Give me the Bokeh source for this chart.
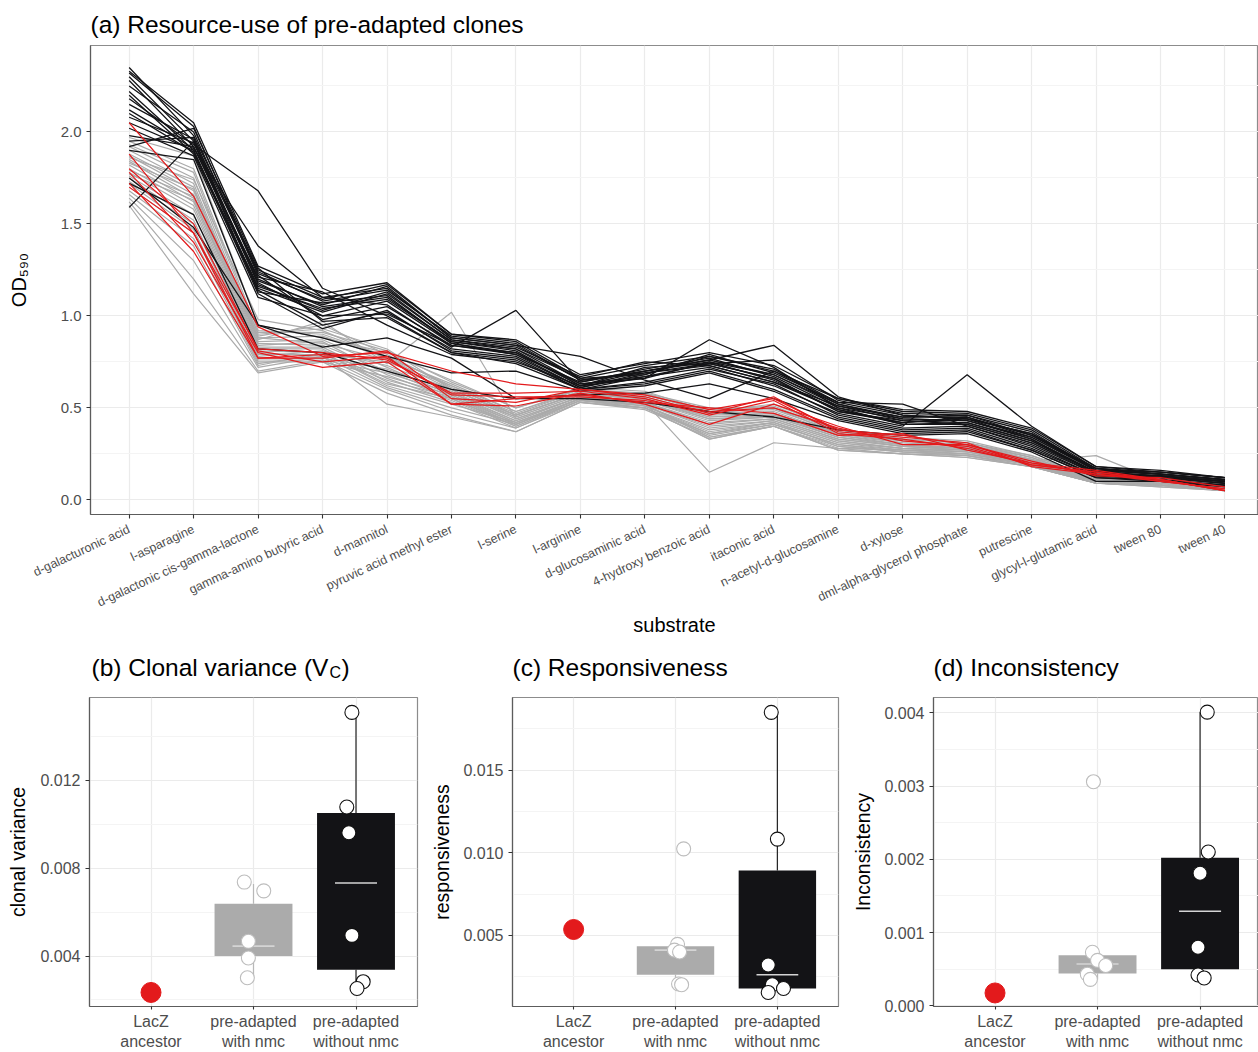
import math
from bokeh.plotting import figure
from bokeh.layouts import column, row
from bokeh.models import FixedTicker, PrintfTickFormatter, Range1d
from bokeh.core.properties import value
from bokeh.embed import file_html
from bokeh.resources import INLINE

FONT = "Liberation Sans"

# ---------------- panel (a) data ----------------
SUBSTRATES = [
    "d-galacturonic acid", "l-asparagine", "d-galactonic cis-gamma-lactone",
    "gamma-amino butyric acid", "d-mannitol", "pyruvic acid methyl ester",
    "l-serine", "l-arginine", "d-glucosaminic acid", "4-hydroxy benzoic acid",
    "itaconic acid", "n-acetyl-d-glucosamine", "d-xylose",
    "dml-alpha-glycerol phosphate", "putrescine", "glycyl-l-glutamic acid",
    "tween 80", "tween 40",
]

BLACK_LINES = [
    [2.35, 1.98, 1.25, 1.10, 1.15, 0.88, 0.84, 0.65, 0.70, 0.75, 0.68, 0.52, 0.45, 0.45, 0.35, 0.16, 0.14, 0.11],
    [2.33, 2.05, 1.27, 1.12, 1.18, 0.90, 0.86, 0.66, 0.68, 0.78, 0.70, 0.55, 0.48, 0.47, 0.38, 0.17, 0.15, 0.12],
    [2.30, 1.95, 1.20, 1.05, 1.10, 0.86, 0.82, 0.63, 0.66, 0.87, 0.72, 0.50, 0.44, 0.43, 0.33, 0.15, 0.13, 0.10],
    [2.28, 1.92, 1.18, 1.00, 1.08, 0.85, 0.80, 0.62, 0.72, 0.74, 0.66, 0.48, 0.42, 0.45, 0.34, 0.16, 0.12, 0.09],
    [2.25, 2.00, 1.22, 0.98, 1.05, 0.84, 0.79, 0.64, 0.70, 0.76, 0.84, 0.56, 0.46, 0.44, 0.36, 0.17, 0.14, 0.11],
    [2.22, 1.90, 1.15, 1.02, 1.12, 0.87, 0.83, 0.67, 0.75, 0.73, 0.64, 0.51, 0.43, 0.42, 0.32, 0.15, 0.13, 0.10],
    [2.20, 1.88, 1.14, 0.95, 1.02, 0.82, 0.78, 0.61, 0.68, 0.79, 0.69, 0.53, 0.52, 0.40, 0.30, 0.14, 0.12, 0.09],
    [2.18, 1.93, 1.68, 1.15, 1.00, 0.80, 0.76, 0.60, 0.67, 0.72, 0.62, 0.47, 0.40, 0.68, 0.40, 0.18, 0.15, 0.12],
    [2.15, 1.96, 1.24, 1.08, 1.14, 0.89, 0.85, 0.65, 0.69, 0.74, 0.76, 0.54, 0.47, 0.46, 0.37, 0.16, 0.14, 0.11],
    [2.12, 1.91, 1.38, 1.10, 1.06, 0.83, 1.03, 0.64, 0.71, 0.77, 0.67, 0.50, 0.41, 0.41, 0.31, 0.15, 0.12, 0.10],
    [2.10, 1.89, 1.16, 1.04, 1.09, 0.86, 0.81, 0.62, 0.66, 0.75, 0.65, 0.49, 0.42, 0.44, 0.33, 0.14, 0.13, 0.10],
    [2.08, 1.94, 1.19, 1.06, 1.16, 0.88, 0.84, 0.78, 0.65, 0.55, 0.70, 0.52, 0.44, 0.43, 0.34, 0.16, 0.14, 0.11],
    [2.05, 1.90, 1.12, 0.93, 1.03, 0.81, 0.77, 0.60, 0.64, 0.71, 0.63, 0.46, 0.39, 0.40, 0.29, 0.13, 0.12, 0.09],
    [2.02, 1.87, 1.10, 1.00, 1.01, 0.84, 0.80, 0.63, 0.67, 0.74, 0.66, 0.48, 0.43, 0.41, 0.31, 0.14, 0.13, 0.10],
    [1.98, 1.92, 1.21, 1.13, 0.95, 0.79, 0.75, 0.62, 0.70, 0.76, 0.68, 0.51, 0.45, 0.46, 0.35, 0.17, 0.14, 0.11],
    [1.95, 1.97, 1.17, 1.03, 1.13, 0.87, 0.82, 0.66, 0.73, 0.78, 0.71, 0.53, 0.46, 0.44, 0.36, 0.16, 0.15, 0.12],
    [1.92, 2.02, 1.26, 0.97, 0.99, 0.80, 0.74, 0.60, 0.63, 0.70, 0.60, 0.45, 0.38, 0.39, 0.28, 0.13, 0.11, 0.08],
    [1.90, 1.85, 0.95, 0.88, 0.78, 0.69, 0.70, 0.59, 0.62, 0.69, 0.59, 0.44, 0.37, 0.38, 0.27, 0.12, 0.11, 0.08],
    [1.75, 1.48, 0.95, 0.83, 0.88, 0.77, 0.55, 0.55, 0.53, 0.48, 0.45, 0.38, 0.35, 0.36, 0.26, 0.10, 0.10, 0.08],
    [1.72, 1.55, 0.82, 0.80, 0.70, 0.60, 0.55, 0.57, 0.58, 0.63, 0.55, 0.43, 0.36, 0.37, 0.27, 0.12, 0.10, 0.07],
    [1.59, 1.95, 1.13, 1.07, 1.11, 0.85, 0.79, 0.61, 0.69, 0.73, 0.64, 0.49, 0.41, 0.42, 0.32, 0.15, 0.13, 0.10],
    [2.32, 2.03, 1.23, 1.09, 1.17, 0.90, 0.87, 0.68, 0.74, 0.80, 0.73, 0.55, 0.49, 0.48, 0.39, 0.18, 0.16, 0.12],
]

GREY_LINES = [
    [1.97, 1.87, 0.95, 0.88, 0.80, 0.65, 0.50, 0.60, 0.58, 0.50, 0.50, 0.38, 0.34, 0.32, 0.24, 0.12, 0.11, 0.08],
    [1.95, 1.80, 0.92, 0.90, 0.78, 0.62, 0.48, 0.59, 0.57, 0.48, 0.49, 0.37, 0.33, 0.31, 0.23, 0.11, 0.10, 0.07],
    [1.93, 1.78, 0.90, 0.93, 0.82, 0.60, 0.46, 0.58, 0.56, 0.46, 0.47, 0.36, 0.32, 0.30, 0.22, 0.12, 0.10, 0.07],
    [1.92, 1.75, 0.88, 0.85, 0.76, 0.58, 0.45, 0.57, 0.55, 0.45, 0.46, 0.35, 0.31, 0.29, 0.22, 0.11, 0.09, 0.06],
    [1.90, 1.72, 0.87, 0.97, 0.74, 1.02, 0.44, 0.56, 0.54, 0.44, 0.45, 0.34, 0.30, 0.28, 0.21, 0.10, 0.09, 0.06],
    [1.88, 1.70, 0.86, 0.87, 0.72, 0.57, 0.43, 0.56, 0.53, 0.42, 0.44, 0.33, 0.29, 0.28, 0.21, 0.24, 0.10, 0.06],
    [1.87, 1.68, 0.85, 0.84, 0.70, 0.56, 0.42, 0.55, 0.52, 0.40, 0.43, 0.32, 0.28, 0.27, 0.20, 0.11, 0.09, 0.06],
    [1.85, 1.66, 0.84, 0.86, 0.68, 0.55, 0.41, 0.55, 0.51, 0.38, 0.42, 0.31, 0.28, 0.26, 0.20, 0.10, 0.08, 0.05],
    [1.84, 1.64, 0.83, 0.83, 0.66, 0.54, 0.40, 0.54, 0.50, 0.36, 0.41, 0.30, 0.27, 0.26, 0.19, 0.09, 0.08, 0.05],
    [1.82, 1.62, 0.82, 0.82, 0.64, 0.53, 0.39, 0.54, 0.52, 0.34, 0.40, 0.29, 0.26, 0.25, 0.19, 0.10, 0.08, 0.06],
    [1.80, 1.60, 0.81, 0.80, 0.62, 0.52, 0.42, 0.55, 0.53, 0.15, 0.31, 0.28, 0.27, 0.25, 0.20, 0.10, 0.09, 0.06],
    [1.78, 1.58, 0.80, 0.78, 0.52, 0.45, 0.37, 0.53, 0.50, 0.33, 0.40, 0.27, 0.25, 0.24, 0.18, 0.09, 0.08, 0.05],
    [1.76, 1.55, 0.79, 0.79, 0.75, 0.62, 0.46, 0.58, 0.56, 0.47, 0.48, 0.36, 0.31, 0.29, 0.22, 0.11, 0.10, 0.07],
    [1.75, 1.52, 0.78, 0.81, 0.73, 0.60, 0.45, 0.57, 0.55, 0.45, 0.47, 0.35, 0.30, 0.28, 0.21, 0.10, 0.09, 0.06],
    [1.73, 1.50, 0.77, 0.77, 0.71, 0.59, 0.44, 0.56, 0.54, 0.43, 0.45, 0.34, 0.29, 0.27, 0.21, 0.11, 0.09, 0.07],
    [1.72, 1.47, 0.76, 0.76, 0.69, 0.58, 0.43, 0.56, 0.53, 0.41, 0.44, 0.33, 0.29, 0.27, 0.20, 0.10, 0.09, 0.06],
    [1.70, 1.45, 0.75, 0.75, 0.67, 0.57, 0.42, 0.55, 0.52, 0.39, 0.43, 0.32, 0.28, 0.26, 0.20, 0.09, 0.08, 0.06],
    [1.68, 1.42, 0.74, 0.79, 0.65, 0.56, 0.41, 0.55, 0.51, 0.37, 0.42, 0.31, 0.27, 0.25, 0.19, 0.10, 0.08, 0.05],
    [1.66, 1.38, 0.73, 0.80, 0.63, 0.55, 0.40, 0.54, 0.50, 0.35, 0.41, 0.30, 0.26, 0.24, 0.19, 0.09, 0.08, 0.05],
    [1.64, 1.30, 0.72, 0.78, 0.61, 0.50, 0.41, 0.54, 0.51, 0.36, 0.42, 0.29, 0.26, 0.24, 0.18, 0.09, 0.08, 0.05],
    [1.62, 1.20, 0.70, 0.76, 0.60, 0.48, 0.39, 0.53, 0.49, 0.34, 0.40, 0.28, 0.25, 0.23, 0.18, 0.09, 0.07, 0.05],
    [1.60, 1.12, 0.69, 0.75, 0.58, 0.46, 0.37, 0.53, 0.50, 0.33, 0.40, 0.27, 0.25, 0.23, 0.18, 0.09, 0.07, 0.05],
    [1.86, 1.74, 0.98, 0.92, 0.77, 0.63, 0.48, 0.60, 0.57, 0.49, 0.51, 0.37, 0.33, 0.31, 0.23, 0.12, 0.10, 0.07],
    [1.83, 1.69, 0.89, 0.95, 0.79, 0.61, 0.47, 0.59, 0.58, 0.47, 0.50, 0.36, 0.32, 0.30, 0.23, 0.11, 0.10, 0.07],
    [1.79, 1.65, 0.91, 0.91, 0.81, 0.64, 0.50, 0.61, 0.59, 0.48, 0.52, 0.38, 0.33, 0.31, 0.24, 0.12, 0.11, 0.08],
    [1.77, 1.63, 0.88, 0.89, 0.77, 0.60, 0.46, 0.58, 0.55, 0.44, 0.46, 0.34, 0.30, 0.28, 0.21, 0.10, 0.09, 0.06],
]

RED_LINES = [
    [2.05, 1.65, 0.94, 0.78, 0.80, 0.70, 0.63, 0.60, 0.57, 0.49, 0.55, 0.38, 0.35, 0.30, 0.20, 0.14, 0.11, 0.05],
    [1.88, 1.45, 0.82, 0.80, 0.76, 0.58, 0.58, 0.59, 0.55, 0.46, 0.54, 0.36, 0.33, 0.28, 0.19, 0.15, 0.10, 0.06],
    [1.80, 1.50, 0.81, 0.75, 0.78, 0.52, 0.51, 0.58, 0.52, 0.41, 0.52, 0.40, 0.30, 0.30, 0.21, 0.13, 0.12, 0.07],
    [1.78, 1.40, 0.80, 0.72, 0.75, 0.52, 0.55, 0.57, 0.53, 0.50, 0.47, 0.35, 0.36, 0.27, 0.20, 0.16, 0.11, 0.05],
    [1.72, 1.35, 0.77, 0.77, 0.81, 0.55, 0.53, 0.60, 0.56, 0.47, 0.56, 0.37, 0.34, 0.31, 0.18, 0.14, 0.10, 0.06],
    [1.70, 1.45, 0.77, 0.79, 0.77, 0.57, 0.56, 0.56, 0.54, 0.48, 0.50, 0.39, 0.32, 0.29, 0.19, 0.15, 0.11, 0.05],
]

# ---------------- panels (b)-(d) data ----------------
GROUP_LABELS = ["LacZ\nancestor", "pre-adapted\nwith nmc", "pre-adapted\nwithout nmc"]
PANEL_TITLES = ["(b) Clonal variance (V", "C", ")", "(c) Responsiveness", "(d) Inconsistency"]

VC_ANCESTOR = 0.00234
VC_WITH = [0.00737, 0.00697, 0.00467, 0.00391, 0.00301]
VC_WITH_JITTER = [-0.09, 0.10, -0.05, -0.05, -0.06]
VC_WITHOUT = [0.0151, 0.01079, 0.00962, 0.00494, 0.00283, 0.00252]
VC_WITHOUT_JITTER = [-0.04, -0.09, -0.07, -0.04, 0.07, 0.01]
VC_BOX_WITH = [0.00301, 0.00400, 0.00445, 0.00638, 0.00728]      # lo, q1, median, q3, hi
VC_BOX_WITHOUT = [0.00252, 0.00337, 0.00733, 0.01052, 0.0151]

RS_ANCESTOR = 0.00536
RS_WITH = [0.01024, 0.00446, 0.00411, 0.00400, 0.00206, 0.00202]
RS_WITH_JITTER = [0.08, 0.02, -0.01, 0.04, 0.03, 0.06]
RS_WITHOUT = [0.0185, 0.01083, 0.00321, 0.00202, 0.00179, 0.00155]
RS_WITHOUT_JITTER = [-0.06, 0.00, -0.09, -0.05, 0.06, -0.09]
RS_BOX_WITH = [0.00202, 0.00262, 0.00411, 0.00435, 0.00446]
RS_BOX_WITHOUT = [0.00155, 0.00179, 0.00262, 0.00893, 0.0185]

IC_ANCESTOR = 0.000175
IC_WITH = [0.00306, 0.00073, 0.00062, 0.00055, 0.00043, 0.00036]
IC_WITH_JITTER = [-0.04, -0.05, 0.00, 0.08, -0.10, -0.07]
IC_WITHOUT = [0.00401, 0.00210, 0.00181, 0.00080, 0.00042, 0.00038]
IC_WITHOUT_JITTER = [0.07, 0.08, 0.00, -0.02, -0.02, 0.04]
IC_BOX_WITH = [0.00036, 0.00044, 0.00057, 0.00069, 0.00073]
IC_BOX_WITHOUT = [0.00038, 0.00050, 0.00129, 0.00202, 0.00401]

RED = "#e31a1c"
BLACK = "#131316"
GREY = "#ababab"


def style_axes(p, ytick_size, xtick_size):
    p.background_fill_color = "white"
    p.border_fill_color = "white"
    p.outline_line_color = "#8c8c8c"
    p.outline_line_width = 1.2
    p.xgrid.grid_line_color = "#ebebeb"
    p.xgrid.grid_line_width = 1.2
    p.ygrid.grid_line_color = "#ebebeb"
    p.ygrid.grid_line_width = 1.2
    p.ygrid.minor_grid_line_color = "#f4f4f4"
    p.ygrid.minor_grid_line_width = 1.0
    for ax in p.axis:
        ax.axis_line_color = "#5c5c5c"
        ax.axis_line_width = 1.2
        ax.major_tick_line_color = "#333333"
        ax.major_tick_line_width = 1.1
        ax.major_tick_in = 0
        ax.major_tick_out = 4
        ax.minor_tick_line_color = None
        ax.major_label_text_color = "#4d4d4d"
        ax.major_label_text_font = FONT
        ax.axis_label_text_font = FONT
        ax.axis_label_text_font_style = "normal"
        ax.axis_label_text_color = "black"
        ax.axis_label_text_font_size = "20px"
    p.yaxis.major_label_text_font_size = ytick_size
    p.xaxis.major_label_text_font_size = xtick_size


# ---------------- panel (a) ----------------
top = figure(width=1258, height=640, x_range=Range1d(-0.6, 17.52), y_range=Range1d(-0.08, 2.47),
             output_backend="svg", toolbar_location=None,
             min_border_left=90, min_border_right=0, min_border_top=45, min_border_bottom=126,
             title="(a) Resource-use of pre-adapted clones")
top.title.text_font = FONT
top.title.text_font_size = "24.5px"
top.title.text_font_style = "normal"
top.title.text_color = "black"
top.title.standoff = 15

xs_sub = list(range(len(SUBSTRATES)))
top.multi_line(xs=[xs_sub] * len(GREY_LINES), ys=GREY_LINES, line_color=GREY, line_width=1.2)
top.multi_line(xs=[xs_sub] * len(BLACK_LINES), ys=BLACK_LINES, line_color=BLACK, line_width=1.3)
top.multi_line(xs=[xs_sub] * len(RED_LINES), ys=RED_LINES, line_color=RED, line_width=1.2)

top.xaxis.ticker = FixedTicker(ticks=xs_sub)
top.xaxis.major_label_overrides = {i: s for i, s in enumerate(SUBSTRATES)}
top.xaxis.major_label_orientation = math.radians(25)
top.yaxis.ticker = FixedTicker(ticks=[0, 0.5, 1.0, 1.5, 2.0], minor_ticks=[0.25, 0.75, 1.25, 1.75, 2.25])
top.yaxis.formatter = PrintfTickFormatter(format="%.1f")
style_axes(top, "15px", "12.5px")
top.xaxis.major_label_standoff = 10
top.xaxis.axis_label = "substrate"
top.yaxis.axis_label = "OD\u2085\u2089\u2080"
top.yaxis.axis_label_standoff = 28
top.xaxis.axis_label_standoff = -5

# ---------------- title strip for panels (b)-(d) ----------------
# its frame is aligned with the frame of panel (a) (x from 90 to 1258 px), so x data == page px
strip = figure(width=1258, height=50, x_range=Range1d(90, 1258), y_range=Range1d(0, 50),
               output_backend="svg", toolbar_location=None,
               min_border_left=90, min_border_right=0, min_border_top=0, min_border_bottom=0)
strip.axis.visible = False
strip.grid.visible = False
strip.outline_line_color = None
strip.background_fill_color = "white"
strip.border_fill_color = "white"
strip.text(x=[91, 512, 933], y=[23, 23, 23], text=[PANEL_TITLES[0], PANEL_TITLES[3], PANEL_TITLES[4]],
           text_font=value(FONT), text_font_size="24.5px", text_color="black",
           text_baseline="alphabetic", text_align="left")
strip.text(x=[329], y=[18], text=[PANEL_TITLES[1]], text_font=value(FONT), text_font_size="16px",
           text_color="black", text_baseline="alphabetic", text_align="left")
strip.text(x=[341], y=[23], text=[PANEL_TITLES[2]], text_font=value(FONT), text_font_size="24.5px",
           text_color="black", text_baseline="alphabetic", text_align="left")


def box_panel(width, left, right, x_end, y_range, ticks, minor, ylabel, label_standoff,
              anc, w_vals, w_jit, wo_vals, wo_jit, box_w, box_wo):
    p = figure(width=width, height=362, x_range=Range1d(-0.6, x_end),
               y_range=Range1d(*y_range), output_backend="svg", toolbar_location=None,
               min_border_left=left, min_border_right=right, min_border_top=7, min_border_bottom=45)
    stats = [box_w, box_wo]
    fills = [GREY, BLACK]
    wcol = ["#b8b8b8", "#222222"]
    for k, (st, fc) in enumerate(zip(stats, fills)):
        cx = k + 1
        p.vbar(x=[cx], width=0.76, bottom=[st[1]], top=[st[3]], fill_color=fc, line_color=None)
        p.segment(x0=[cx, cx], y0=[st[3], st[0]], x1=[cx, cx], y1=[st[4], st[1]],
                  line_color=wcol[k], line_width=1.2)
        p.segment(x0=[cx - 0.205], y0=[st[2]], x1=[cx + 0.205], y1=[st[2]],
                  line_color="#d4d4d4", line_width=1.6)
    p.scatter(x=[1 + j for j in w_jit], y=w_vals, size=14, fill_color="white",
              line_color="#bdbdbd", line_width=1.1)
    p.scatter(x=[2 + j for j in wo_jit], y=wo_vals, size=14, fill_color="white",
              line_color="#111111", line_width=1.1)
    p.scatter(x=[0], y=[anc], size=20, fill_color=RED, line_color=RED)

    p.xaxis.ticker = FixedTicker(ticks=[0, 1, 2])
    p.xaxis.major_label_overrides = {i: s for i, s in enumerate(GROUP_LABELS)}
    p.yaxis.ticker = FixedTicker(ticks=ticks, minor_ticks=minor)
    p.yaxis.formatter = PrintfTickFormatter(format="%.3f")
    style_axes(p, "16px", "16px")
    p.xaxis.major_tick_out = 3
    p.xaxis.major_label_standoff = 3
    p.yaxis.axis_label = ylabel
    p.yaxis.axis_label_standoff = label_standoff
    p.yaxis.axis_label_text_font_size = "19.5px"
    return p


pb = box_panel(425, 89, 8, 2.6, (0.0017, 0.01578), [0.004, 0.008, 0.012], [0.002, 0.006, 0.010, 0.014],
               "clonal variance", 8, VC_ANCESTOR, VC_WITH, VC_WITH_JITTER,
               VC_WITHOUT, VC_WITHOUT_JITTER, VC_BOX_WITH, VC_BOX_WITHOUT)
pc = box_panel(421, 87, 8, 2.6, (0.0007, 0.0194), [0.005, 0.010, 0.015], [0.0025, 0.0075, 0.0125, 0.0175],
               "responsiveness", 7, RS_ANCESTOR, RS_WITH, RS_WITH_JITTER,
               RS_WITHOUT, RS_WITHOUT_JITTER, RS_BOX_WITH, RS_BOX_WITHOUT)
pd = box_panel(412, 87, 0, 2.57, (-0.00001, 0.00421), [0.0, 0.001, 0.002, 0.003, 0.004],
               [0.0005, 0.0015, 0.0025, 0.0035], "Inconsistency", 7, IC_ANCESTOR,
               IC_WITH, IC_WITH_JITTER, IC_WITHOUT, IC_WITHOUT_JITTER, IC_BOX_WITH, IC_BOX_WITHOUT)

layout = column(top, strip, row(pb, pc, pd, spacing=0), spacing=0)
open("out.html", "w").write(file_html(layout, INLINE))
